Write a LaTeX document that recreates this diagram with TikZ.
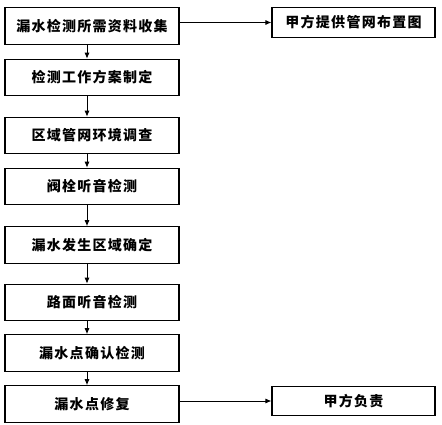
\documentclass[tikz,border=0pt]{standalone}
\usepackage{fontspec}
\newfontfamily\cjk{Noto Sans CJK SC}[LetterSpace=9]
\usepackage{tikz}
\usetikzlibrary{positioning,arrows.meta}

\begin{document}
\begin{tikzpicture}[x=1pt,y=1pt,on grid,
	step box/.style={draw,line width=1.1pt,minimum width=174pt,minimum height=36.5pt,inner sep=0pt,font=\cjk\bfseries\fontsize{14pt}{16pt}\selectfont},
	side box/.style={draw,line width=1.1pt,minimum width=163pt,minimum height=29.5pt,inner sep=0pt,font=\cjk\bfseries\fontsize{14pt}{16pt}\selectfont},
	flow/.style={-{Latex[length=6pt,width=5pt]},line width=0.9pt}]
	\useasboundingbox (0,0) rectangle (442,-425);
	\node[step box] (b_1) at (92,-26) {漏水检测所需资料收集};
	\node[step box] (b_2) [below=51.5 of b_1] {检测工作方案制定};
	\node[step box] (b_3) [below=58 of b_2] {区域管网环境调查};
	\node[step box] (b_4) [below=51 of b_3] {阀栓听音检测};
	\node[step box] (b_5) [below=58.5 of b_4] {漏水发生区域确定};
	\node[step box] (b_6) [below=57.5 of b_5] {路面听音检测};
	\node[step box] (b_7) [below=50.5 of b_6] {漏水点确认检测};
	\node[step box] (b_8) [below=51 of b_7] {漏水点修复};
	\node[side box] (r_1) at (353.5,-22.5) {甲方提供管网布置图};
	\node[side box] (r_2) at (353.5,-401) {甲方负责};
	% main line
	\foreach \a/\b in {1/2,2/3,3/4,4/5,5/6,6/7,7/8}
		\draw[flow] ([xshift=-5pt]b_\a.south) -- ([xshift=-5pt]b_\b.north);
	% side branches
	\draw[flow] (r_1.west -| b_1.east) -- (r_1.west);
	\draw[flow] (r_2.west -| b_8.east) -- (r_2.west);
\end{tikzpicture}
\end{document}
